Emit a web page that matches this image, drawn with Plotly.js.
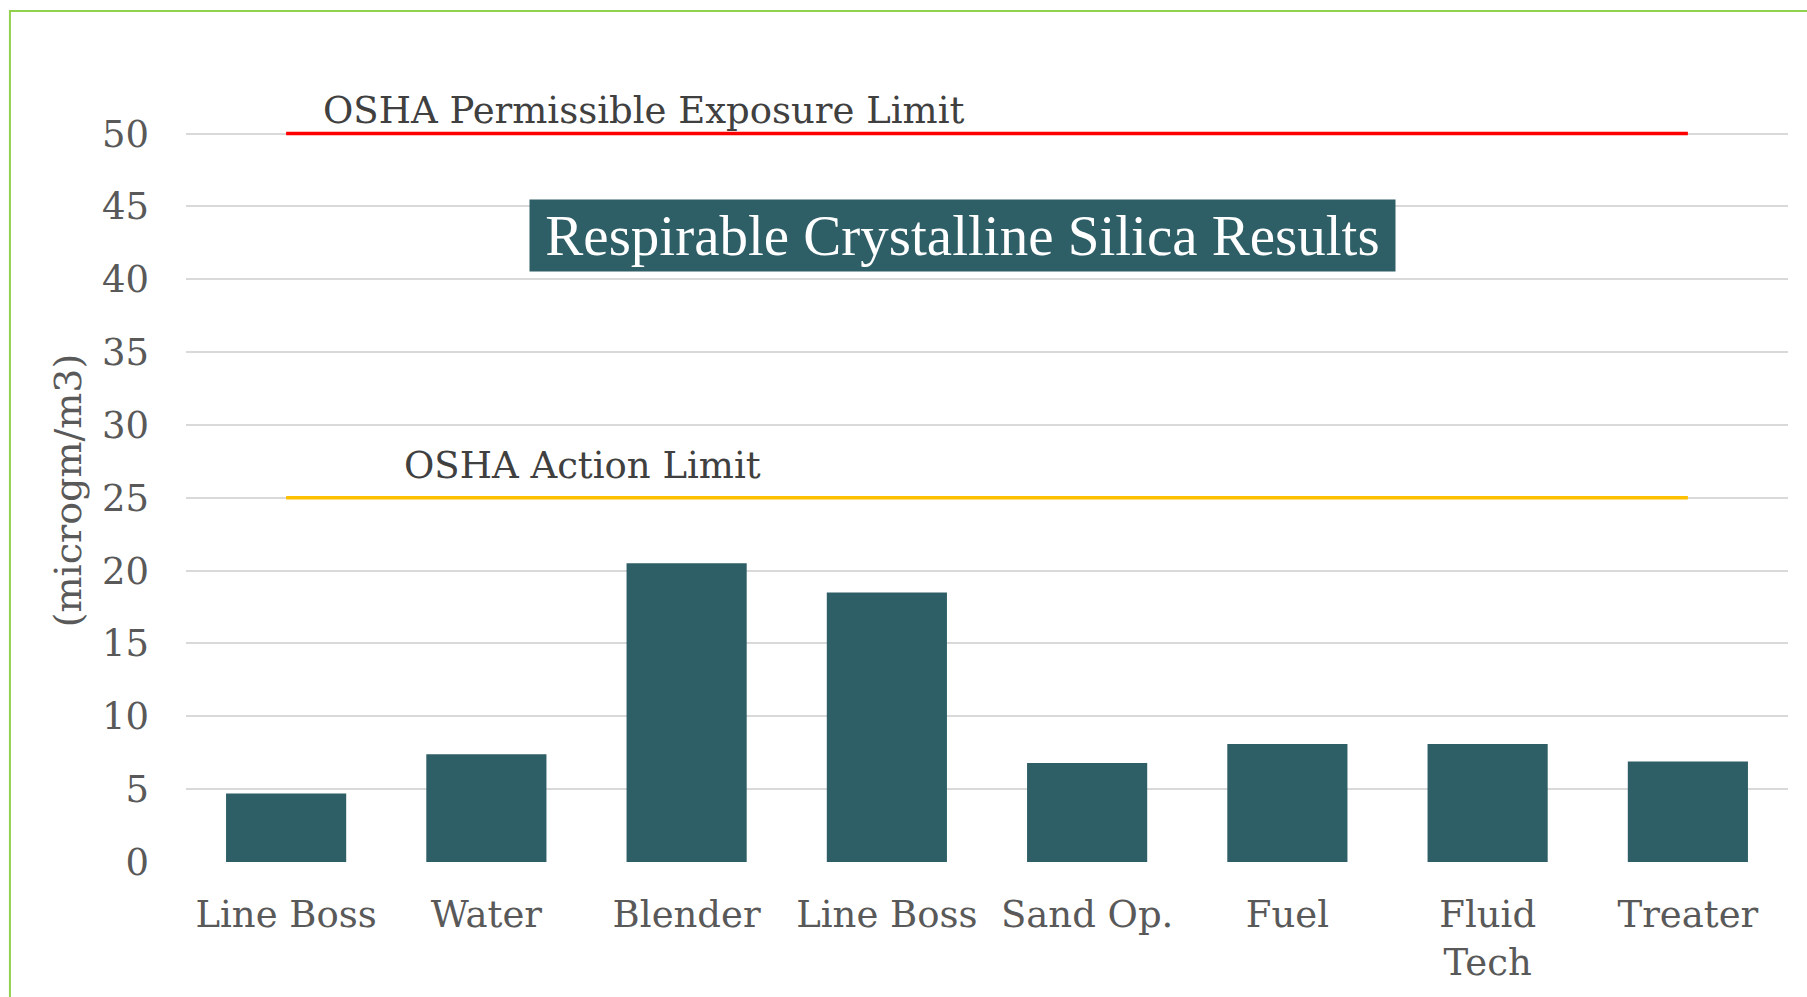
<!DOCTYPE html>
<html>
<head>
<meta charset="utf-8">
<script src="https://cdn.plot.ly/plotly-3.0.1.min.js"></script>
<style>
html,body{margin:0;padding:0;background:#fff;overflow:hidden;}
#chart{width:1807px;height:997px;}
</style>
</head>
<body>
<div id="chart"></div>
<script>
// Data
const categories = ["Line Boss", "Water", "Blender", "Line Boss", "Sand Op.", "Fuel", "Fluid<br>Tech", "Treater"];
const silicaValues = [4.7, 7.4, 20.5, 18.5, 6.8, 8.1, 8.1, 6.9];
const permissibleLimit = [50, 50, 50, 50, 50, 50, 50, 50];
const actionLimit = [25, 25, 25, 25, 25, 25, 25, 25];
const yTickValues = [0, 5, 10, 15, 20, 25, 30, 35, 40, 45, 50];

const xIdx = categories.map((_, i) => i);
const serif = "DejaVu Serif, Liberation Serif, serif";

const traces = [
  {
    type: "bar", x: xIdx, y: silicaValues,
    marker: {color: "#2E5E66"}, hoverinfo: "y", name: "Results"
  },
  {
    type: "scatter", mode: "lines", x: xIdx, y: permissibleLimit,
    line: {color: "#FF0000", width: 3.5}, name: "OSHA Permissible Exposure Limit", cliponaxis: false
  },
  {
    type: "scatter", mode: "lines", x: xIdx, y: actionLimit,
    line: {color: "#FFC000", width: 3.5}, name: "OSHA Action Limit", cliponaxis: false
  }
];

const layout = {
  width: 1807, height: 997,
  margin: {l: 186, r: 19, t: 119, b: 135},
  paper_bgcolor: "#ffffff", plot_bgcolor: "#ffffff",
  showlegend: false,
  bargap: 0.4,
  font: {family: serif, color: "#595959"},
  xaxis: {
    range: [-0.5, 7.5],
    tickmode: "array", tickvals: xIdx, ticktext: categories,
    showgrid: false, zeroline: false, showline: false, ticks: "",
    tickfont: {family: serif, size: 37, color: "#595959"},
    ticklabelstandoff: 27,
    fixedrange: true
  },
  yaxis: {
    range: [0, 51],
    tickmode: "array", tickvals: yTickValues,
    showgrid: true, gridcolor: "#D9D9D9", gridwidth: 2,
    zeroline: false, showline: false, ticks: "",
    tickfont: {family: serif, size: 37, color: "#595959"},
    ticklabelstandoff: 36,
    title: {text: "(microgm/m3)", font: {family: serif, size: 38, color: "#595959"}, standoff: 8},
    fixedrange: true
  },
  annotations: [
    {
      text: "Respirable Crystalline Silica Results",
      xref: "paper", yref: "paper", x: 0.4847, y: 0.8432,
      xanchor: "center", yanchor: "middle",
      showarrow: false, bgcolor: "#2E5E66", width: 863, height: 69,
      font: {family: "Liberation Serif, serif", size: 57, color: "#ffffff"}
    },
    {
      text: "OSHA Permissible Exposure Limit",
      xref: "paper", yref: "paper", x: 0.0843, y: 1.0113,
      xanchor: "left", yanchor: "middle", showarrow: false,
      font: {family: serif, size: 37, color: "#404040"}
    },
    {
      text: "OSHA Action Limit",
      xref: "paper", yref: "paper", x: 0.1348, y: 0.5335,
      xanchor: "left", yanchor: "middle", showarrow: false,
      font: {family: serif, size: 37, color: "#404040"}
    }
  ],
  shapes: [
    {type: "path", xref: "paper", yref: "paper",
     path: "M -0.1099,-0.2 L -0.1099,1.1454 L 1.02,1.1454",
     line: {color: "#92D050", width: 2}}
  ]
};

Plotly.newPlot("chart", traces, layout, {displayModeBar: false, staticPlot: true});
</script>
</body>
</html>
